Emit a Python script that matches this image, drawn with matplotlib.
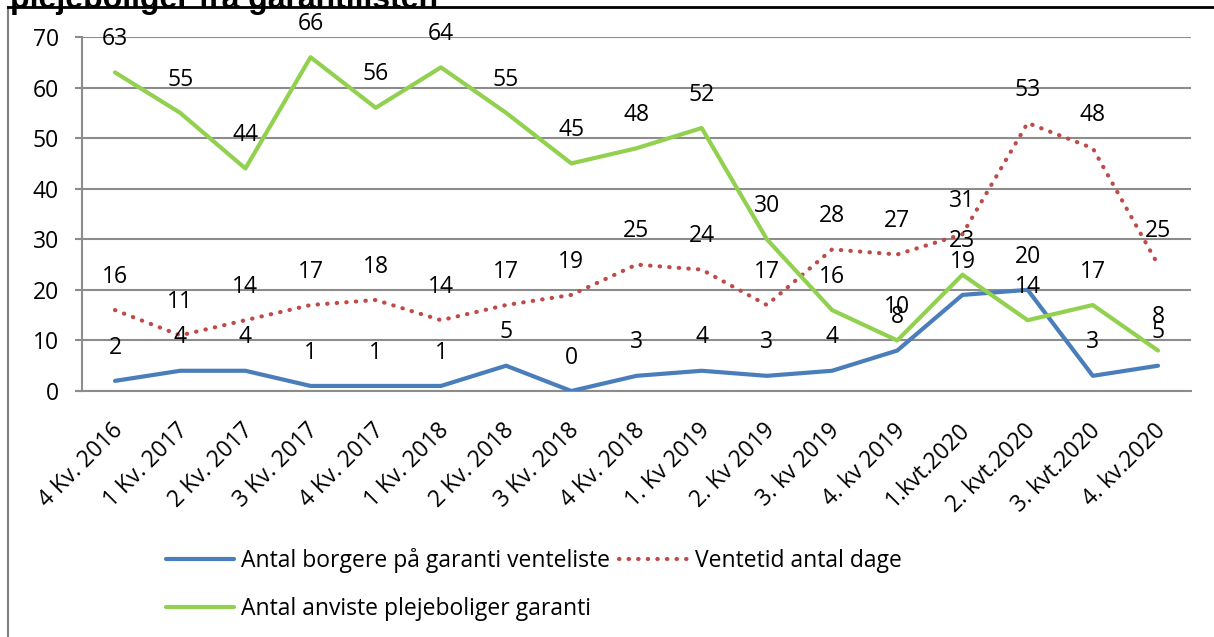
import matplotlib
matplotlib.use("Agg")
import matplotlib.pyplot as plt
from matplotlib.lines import Line2D
import matplotlib.transforms as mtransforms

categories = ["4 Kv. 2016", "1 Kv. 2017", "2 Kv. 2017", "3 Kv. 2017", "4 Kv. 2017",
              "1 Kv. 2018", "2 Kv. 2018", "3 Kv. 2018", "4 Kv. 2018", "1. Kv 2019",
              "2. Kv 2019", "3. kv 2019", "4. kv 2019", "1.kvt.2020", "2. kvt.2020",
              "3. kvt.2020", "4. kv.2020"]
borgere = [2, 4, 4, 1, 1, 1, 5, 0, 3, 4, 3, 4, 8, 19, 20, 3, 5]
ventetid = [16, 11, 14, 17, 18, 14, 17, 19, 25, 24, 17, 28, 27, 31, 53, 48, 25]
anviste = [63, 55, 44, 66, 56, 64, 55, 45, 48, 52, 30, 16, 10, 23, 14, 17, 8]
yticks = [0, 10, 20, 30, 40, 50, 60, 70]

series_names = ["Antal borgere på garanti venteliste", "Ventetid antal dage",
                "Antal anviste plejeboliger garanti"]

plt.rcParams['font.family'] = ['Open Sans', 'DejaVu Sans']
FS = 16.5

W, H = 1214, 637
fig = plt.figure(figsize=(W / 100, H / 100), dpi=100)
ax = fig.add_axes([82.4 / W, 1 - 391 / H, (1190.6 - 82.4) / W, (391 - 37) / H])

# outer chart border
fig.add_artist(Line2D([8 / W, 8 / W], [0, 1 - 7 / H], transform=fig.transFigure,
                      color="#7f7f7f", lw=1.5))
fig.add_artist(Line2D([8 / W, 1], [1 - 7 / H, 1 - 7 / H], transform=fig.transFigure,
                      color="black", lw=2))
fig.text(10 / W, 1 - 0 / H, "plejeboliger fra garantilisten", fontsize=23,
         fontweight="bold", va="center", ha="left", family=["Liberation Sans"])

x = list(range(len(categories)))
c_blue, c_red, c_green = "#4a7ebb", "#be4b48", "#92d050"
l1, = ax.plot(x, borgere, color=c_blue, lw=3, solid_capstyle="round", zorder=3)
l2, = ax.plot(x, ventetid, color=c_red, lw=3, linestyle=(0, (0.1, 2.2)),
              dash_capstyle="round", zorder=3)
l3, = ax.plot(x, anviste, color=c_green, lw=3, solid_capstyle="round", zorder=3)

for data in (borgere, ventetid, anviste):
    for xi, v in zip(x, data):
        ax.annotate(str(v), (xi, v), xytext=(0, 24), textcoords="offset points",
                    ha="center", va="center", fontsize=FS, color="black", zorder=4)

ax.set_xlim(-0.5, len(categories) - 0.5)
ax.set_ylim(0, 70)
ax.set_yticks(yticks)
ax.set_yticklabels([str(t) for t in yticks], fontsize=FS)
ax.yaxis.grid(True, color="#8c8c8c", lw=1.5)
ax.set_axisbelow(True)
ax.tick_params(axis="y", length=5, color="#8c8c8c", width=1.5, pad=12)
ax.set_xticks(x)
ax.set_xticklabels(categories, rotation=45, ha="right", rotation_mode="anchor",
                   fontsize=FS)
ax.tick_params(axis="x", length=0, pad=20)
offset = mtransforms.ScaledTranslation(-4 / 100, 0, fig.dpi_scale_trans)
for lab in ax.get_xticklabels():
    lab.set_transform(lab.get_transform() + offset)
for s in ["top", "right"]:
    ax.spines[s].set_visible(False)
ax.spines["left"].set_color("#8c8c8c")
ax.spines["left"].set_linewidth(1.5)
ax.spines["bottom"].set_color("#8c8c8c")
ax.spines["bottom"].set_linewidth(1.5)
ax.spines["bottom"].set_bounds(-0.6, len(categories) - 0.5)

leg = fig.legend([l1, l3, l2], [series_names[0], series_names[2], series_names[1]],
                 ncol=2, loc="upper left", bbox_to_anchor=(145 / W, 1 - 527 / H),
                 frameon=False, fontsize=FS, handlelength=3.0, handletextpad=0.3,
                 columnspacing=0.4, labelspacing=1.05)

fig.savefig("out.png", dpi=100)
